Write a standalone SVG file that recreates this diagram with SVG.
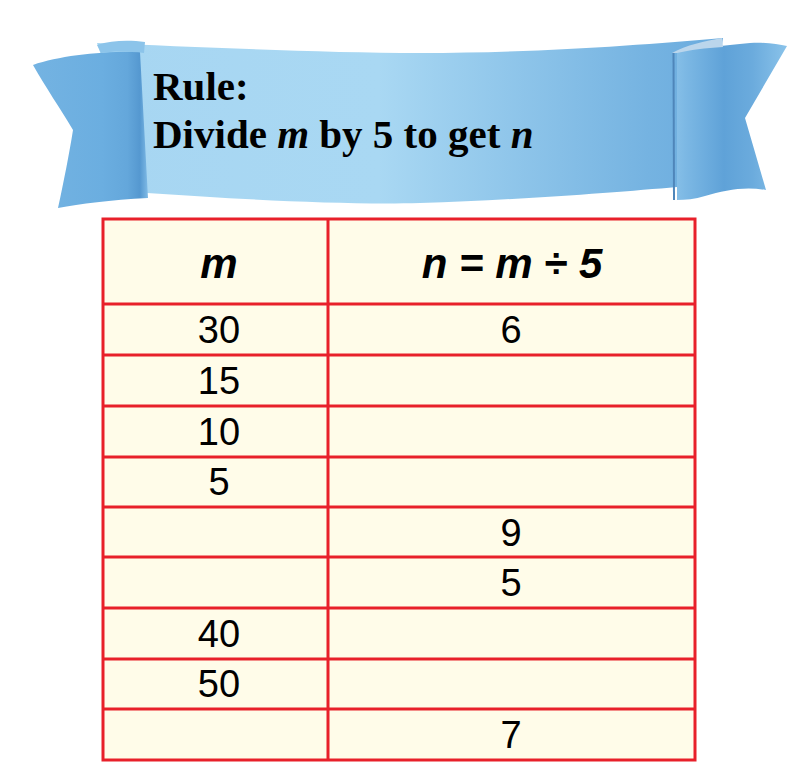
<svg xmlns="http://www.w3.org/2000/svg" width="800" height="781" viewBox="0 0 800 781">
<defs>
<linearGradient id="band" gradientUnits="userSpaceOnUse" x1="97" y1="0" x2="723" y2="0">
<stop offset="0" stop-color="#A7D6F2"/>
<stop offset="0.45" stop-color="#A9D8F3"/>
<stop offset="0.88" stop-color="#75B3E1"/>
<stop offset="1" stop-color="#6AABDE"/>
</linearGradient>
<linearGradient id="flapL" gradientUnits="userSpaceOnUse" x1="33" y1="0" x2="148" y2="0">
<stop offset="0" stop-color="#74B3E2"/>
<stop offset="0.6" stop-color="#6BAEE0"/>
<stop offset="0.82" stop-color="#64A7DB"/>
<stop offset="0.93" stop-color="#5598D0"/>
<stop offset="1" stop-color="#80BBE6"/>
</linearGradient>
<linearGradient id="flapR" gradientUnits="userSpaceOnUse" x1="672" y1="0" x2="787" y2="0">
<stop offset="0" stop-color="#8AC2E9"/>
<stop offset="0.12" stop-color="#7CB8E4"/>
<stop offset="0.45" stop-color="#5FA2D8"/>
<stop offset="0.7" stop-color="#6BABDD"/>
<stop offset="1" stop-color="#8AC3EA"/>
</linearGradient>
<style>
.cell{fill:#FFFCE9;stroke:#E8202A;stroke-width:3}
.grid{stroke:#E8202A;stroke-width:3;fill:none}
.num{font-family:"Liberation Sans",Arial,sans-serif;font-size:38px;fill:#000;text-anchor:middle}
.head{font-family:"Liberation Sans",Arial,sans-serif;font-size:42px;font-weight:bold;font-style:italic;fill:#000;text-anchor:middle}
.rule{font-family:"Liberation Serif","Times New Roman",serif;font-size:41px;font-weight:bold;fill:#000}
</style>
</defs>
<g id="banner">
<path d="M97,43 C200,47 320,53 420,53 C540,53 640,45 723,38 L700,188 L677,187 C620,192 520,200 420,203 C350,205 250,200 147,193 Z" fill="url(#band)"/>
<path d="M33,65 C60,56 100,51 140,52 L148,198 C110,200 80,204 58,208 C64,180 69,155 73,130 C60,108 46,88 33,65 Z" fill="url(#flapL)"/>
<path d="M97,45 C112,40 130,40 145,42 L144,53 C128,51 112,51 101,53 Z" fill="#8CC4EA"/>
<path d="M677,52 C700,48 722,46 750,43 C765,42 778,44 787,46 L745,118 L766,190 C745,186 725,190 705,196 C695,199 685,200 677,200 Z" fill="url(#flapR)"/>
<path d="M672,53 C686,45 705,41 722,38 L723,47 C705,48 690,50 677,53 Z" fill="#BBD6EC"/>
<line x1="673.5" y1="53" x2="674" y2="200" stroke="#4F86BA" stroke-width="2"/>
<text class="rule" x="153" y="100">Rule:</text>
<text class="rule" x="153" y="148">Divide <tspan font-style="italic">m</tspan> by 5 to get <tspan font-style="italic">n</tspan></text>
</g>
<g id="table">
<rect class="cell" x="103" y="219" width="592" height="541"/>
<path class="grid" d="M328,219 V760 M103,304 H695 M103,355 H695 M103,406 H695 M103,457 H695 M103,507 H695 M103,557 H695 M103,608 H695 M103,659 H695 M103,709 H695"/>
<text class="head" x="219" y="278">m</text>
<text class="head" x="512" y="278">n = m ÷ 5</text>
<text class="num" x="219" y="343">30</text>
<text class="num" x="511" y="343">6</text>
<text class="num" x="219" y="394">15</text>
<text class="num" x="219" y="445">10</text>
<text class="num" x="219" y="495">5</text>
<text class="num" x="511" y="546">9</text>
<text class="num" x="511" y="596">5</text>
<text class="num" x="219" y="647">40</text>
<text class="num" x="219" y="697">50</text>
<text class="num" x="511" y="748">7</text>
</g>
</svg>
